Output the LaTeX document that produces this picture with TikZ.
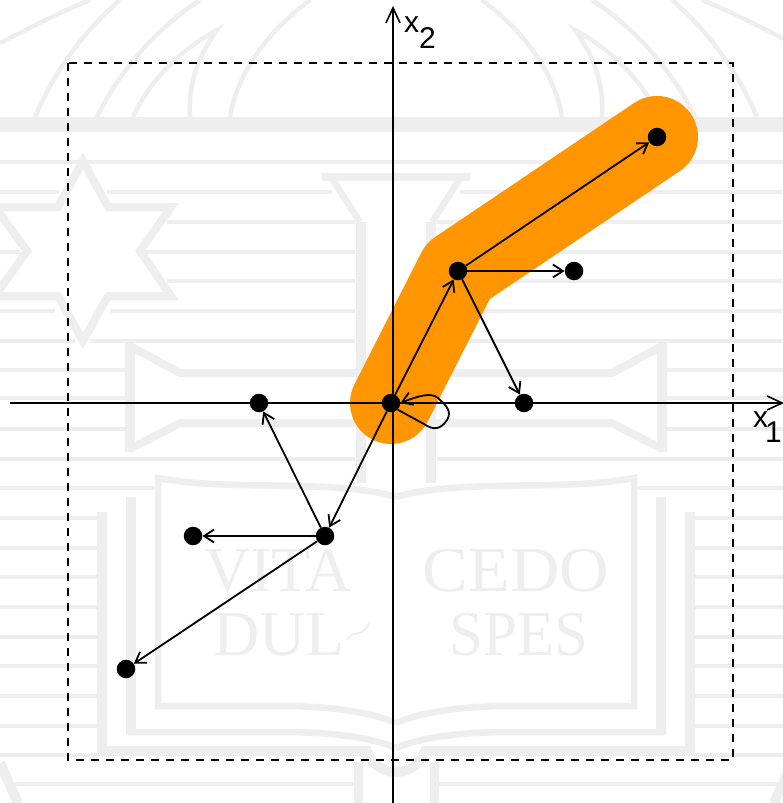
\documentclass[tikz,border=0pt]{standalone}
\usepackage{fontspec}
\setmainfont{Liberation Sans}
\newfontfamily\wmfont{Liberation Serif}
\usetikzlibrary{arrows.meta}
\definecolor{wm}{HTML}{EEEEEE}
\definecolor{band}{HTML}{FF9500}
\tikzset{
  pt/.style={circle,fill=black,inner sep=0pt,minimum size=18.5pt},
  arr/.style={line width=1.8pt,-{Straight Barb[length=10pt,width=13pt,line width=1.8pt]}},
  axisline/.style={line width=1.6pt,-{Straight Barb[length=15pt,width=14pt,line width=1.6pt]}},
  lab/.style={inner sep=0pt,font=\fontsize{30}{30}\selectfont},
  wmthin/.style={draw=wm,line width=3.2pt},
  wmarc/.style={draw=wm,line width=4.5pt},
  wmline/.style={draw=wm,line width=6.5pt},
  wmthick/.style={draw=wm,line width=10pt},
  wmtext/.style={text=wm,inner sep=0pt,transform shape,font=\wmfont\fontsize{64}{64}\selectfont}
}
\newcommand{\wmseg}[3]{\draw[wmthin] (#2,#1) -- (#3,#1);}
\newcommand{\wmhalf}{%
  % stripes common to both sides
  \wmseg{162}{0}{396}
  \wmseg{370}{0}{125}
  \wmseg{398}{0}{125}
  \wmseg{429}{0}{125}
  \wmseg{459}{0}{355}
  \wmseg{488}{0}{155}
  \foreach \yy in {518,548,577,607,637,666,696,726,755}{\wmseg{\yy}{0}{97}}
  \wmseg{784}{15}{355}
  % band
  \draw[draw=wm,line width=15pt] (0,124.5) -- (396,124.5);
  % dome arcs
  \draw[wmarc] (230,117) .. controls (238,70) and (270,30) .. (310,0);
  \draw[wmarc] (97,117) .. controls (120,70) and (155,30) .. (200,0);
  \draw[wmarc] (35,117) .. controls (55,70) and (85,30) .. (120,0);
  \draw[wmarc] (0,43) .. controls (30,28) and (60,12) .. (90,0);
  \draw[wmarc,line join=miter] (133,117) .. controls (150,80) and (180,50) .. (217,30)
     .. controls (195,60) and (188,90) .. (190,117);
  % cup and stem
  \draw[draw=wm,line width=8pt] (322,177) -- (396,177);
  \draw[wmline] (331,177) -- (360,222);
  \draw[wmthick] (361,222) -- (361,483);
  % ribbon
  \draw[wmthick] (130,343) -- (130,452);
  \draw[draw=wm,line width=8pt] (130,346) -- (180,373) -- (361,373);
  \draw[draw=wm,line width=8pt] (130,449) -- (180,423) -- (361,423);
  % book
  \draw[wmline] (158,709) -- (158,478) .. controls (230,492) and (330,478) .. (396,497);
  \draw[wmline] (155,706) -- (290,706) .. controls (335,707) and (370,712) .. (396,723);
  \draw[wmthick] (131,497) -- (131,735);
  \draw[wmline] (126,732) -- (290,732) .. controls (335,733) and (370,737) .. (396,748);
  \draw[wmthick] (102,512) -- (102,756);
  \draw[wmthick] (97,751) -- (367,751) .. controls (372,766) and (385,772) .. (396,772);
  \draw[draw=wm,line width=9pt] (358,762) -- (358,803);
  % lower corner
  \draw[wmthick] (0,763) -- (18,803);
}
\begin{document}
\begin{tikzpicture}[x=1pt,y=-1pt]
\useasboundingbox (0,0) rectangle (782,803);
\fill[white] (0,0) rectangle (782,803);
% watermark
\wmhalf
\begin{scope}[xshift=792pt,xscale=-1]
\wmhalf
\end{scope}
% stripes that differ left and right (star on the left only)
\wmseg{192}{0}{59}\wmseg{192}{107}{332}\wmseg{192}{460}{782}
\wmseg{222}{167}{355}\wmseg{222}{437}{782}
\wmseg{252}{0}{20}\wmseg{252}{145}{355}\wmseg{252}{437}{782}
\wmseg{281}{167}{355}\wmseg{281}{437}{782}
\wmseg{311}{0}{55}\wmseg{311}{110}{355}\wmseg{311}{437}{782}
\wmseg{341}{0}{75}\wmseg{341}{90}{355}\wmseg{341}{437}{782}
% star
\draw[draw=wm,line width=8pt,line join=miter,miter limit=10]
  (83,161) -- (108,207) -- (171,207) -- (140,251) -- (171,296) -- (108,296) -- (83,341)
  -- (58,296) -- (-5,296) -- (27,251) -- (-5,207) -- (58,207) -- cycle;
% watermark lettering
\node[wmtext] (wv) at (278,571) {VITA};
\node[wmtext,xscale=1.07] (wc) at (516,571) {CEDO};
\node[wmtext] (wd) at (279,635) {DUL};
\node[wmtext,xscale=0.95] (ws) at (519,635) {SPES};
\draw[draw=wm,line width=2pt] (347,640) .. controls (355,628) and (360,640) .. (370,622);
% orange path
\draw[band,line width=82pt,line cap=round,line join=round]
  (391,403) -- (458,271) -- (657,137);
% dashed frame
\draw[line width=2pt,dash pattern=on 8pt off 7pt] (68,63) rectangle (733,760);
% axes
\coordinate (xs) at (10,403);
\coordinate (xe) at (784,403);
\coordinate (ys) at (393,803);
\coordinate (ye) at (393,6);
\draw[axisline] (xs) -- (xe);
\draw[axisline] (ys) -- (ye);
\node[lab,anchor=base west] (lx2) at (404,32) {x};
\node[lab,anchor=base west] (ln2) at (419,48) {2};
\node[lab,anchor=base west] (lx1) at (753,427) {x};
\node[lab,anchor=base west] (ln1) at (765,442) {1};
% points
\node[pt] (o) at (391,403) {};
\node[pt] (a) at (458,271) {};
\node[pt] (b) at (657,137) {};
\node[pt] (c) at (574,271) {};
\node[pt] (d) at (524,403) {};
\node[pt] (e) at (259,403) {};
\node[pt] (f) at (325,536) {};
\node[pt] (g) at (193,536) {};
\node[pt] (h) at (126,669) {};
% transitions
\draw[arr] (o) -- (a);
\draw[arr] (a) -- (b);
\draw[arr] (a) -- (c);
\draw[arr] (a) -- (d);
\draw[arr] (o) -- (f);
\draw[arr] (f) -- (e);
\draw[arr] (f) -- (g);
\draw[arr] (f) -- (h);
\draw[arr] (o.south east) -- (424,424)
   .. controls (434,431) and (441,429) .. (447,420)
   .. controls (452,412) and (447,406) .. (438,398)
   .. controls (431,392) and (418,396) .. (o.east);
\end{tikzpicture}
\end{document}
